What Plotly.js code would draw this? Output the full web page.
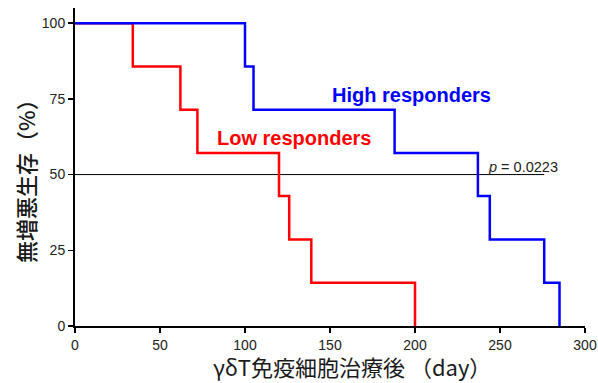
<!DOCTYPE html>
<html>
<head>
<meta charset="utf-8">
<script src="https://cdn.plot.ly/plotly-3.0.1.min.js"></script>
<style>html,body{margin:0;padding:0;background:#fff;}#chart{width:598px;height:383px;}</style>
</head>
<body>
<div id="chart"></div>
<script>
// Kaplan-Meier step data (day, % survival)
const highDays = [0, 100, 105, 188, 237, 244, 276, 285];
const highSurv = [100, 85.7, 71.4, 57.1, 42.9, 28.6, 14.3, 0];
const lowDays = [0, 34, 62, 72, 120, 126, 139, 200];
const lowSurv = [100, 85.7, 71.4, 57.1, 42.9, 28.6, 14.3, 0];
const refDays = [0, 276];
const refSurv = [50, 50];
const xTicks = [0, 50, 100, 150, 200, 250, 300];
const yTicks = [0, 25, 50, 75, 100];

const font = '"Liberation Sans", Arial, sans-serif';
const cjk = '"Noto Sans CJK JP", "Liberation Sans", sans-serif';

const traces = [
  {x: refDays, y: refSurv, mode: 'lines', line: {color: '#000', width: 1}, hoverinfo: 'skip'},
  {x: lowDays, y: lowSurv, mode: 'lines', line: {color: '#ff0000', width: 2.5, shape: 'hv'}},
  {x: highDays, y: highSurv, mode: 'lines', line: {color: '#0000ff', width: 2.5, shape: 'hv'}}
];

const layout = {
  width: 598, height: 383,
  margin: {l: 75, r: 13, t: 8, b: 57},
  paper_bgcolor: '#fff', plot_bgcolor: '#fff',
  showlegend: false,
  xaxis: {
    range: [0, 300], tickvals: xTicks, ticks: 'outside', ticklen: 5, tickwidth: 1.5, tickcolor: '#000',
    showline: true, linecolor: '#000', linewidth: 2, showgrid: false, zeroline: false,
    tickfont: {family: font, size: 14, color: '#222'}
  },
  yaxis: {
    range: [0, 105], tickvals: yTicks, ticks: 'outside', ticklen: 5, tickwidth: 1.5, tickcolor: '#000',
    showline: true, linecolor: '#000', linewidth: 2, showgrid: false, zeroline: false,
    tickfont: {family: font, size: 14, color: '#222'}
  },
  annotations: [
    {x: 198, y: 76.2, xref: 'x', yref: 'y', text: '<b>High responders</b>', showarrow: false,
     font: {family: font, size: 20, color: '#0000ff'}},
    {x: 129, y: 62, xref: 'x', yref: 'y', text: '<b>Low responders</b>', showarrow: false,
     font: {family: font, size: 20, color: '#ff0000'}},
    {x: 263.5, y: 52.6, xref: 'x', yref: 'y', text: '<i>p</i> = 0.0223', showarrow: false,
     font: {family: font, size: 14.5, color: '#222'}},
    // axis titles
    {x: (352 - 75) / 510, y: (326 - 366) / 318, xref: 'paper', yref: 'paper', xanchor: 'center', yanchor: 'middle',
     text: 'γδT免疫細胞治療後 （day）', showarrow: false,
     font: {family: cjk, size: 22, color: '#1a1a1a'}},
    {x: (25 - 75) / 510, y: (326 - 176) / 318, xref: 'paper', yref: 'paper', showarrow: false, textangle: -90,
     xanchor: 'center', yanchor: 'middle', text: '無増悪生存（%）',
     font: {family: cjk, size: 22, color: '#1a1a1a', weight: 500}}
  ]
};

Plotly.newPlot('chart', traces, layout, {displayModeBar: false, staticPlot: true});
</script>
</body>
</html>
